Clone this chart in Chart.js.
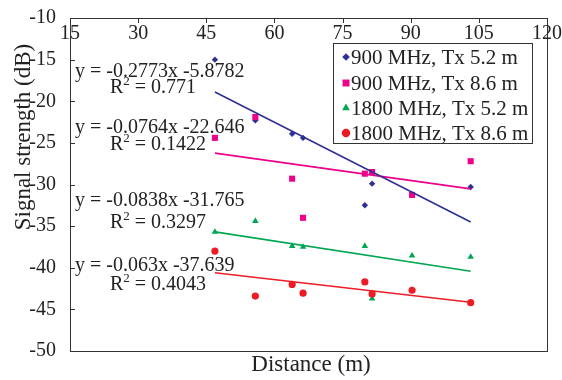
<!DOCTYPE html>
<html>
<head>
<meta charset="utf-8">
<script src="https://cdn.jsdelivr.net/npm/chart.js@4/dist/chart.umd.min.js"></script>
<style>
  html, body { margin: 0; padding: 0; background: #fff; }
  #wrap { width: 562px; height: 380px; }
</style>
</head>
<body>
<div id="wrap"><canvas id="chart" width="562" height="380"></canvas></div>
<script>
// values
const distances = [46.9, 55.8, 63.9, 66.3, 79.9, 81.5, 90.3, 103.2];
const mhz900Tx52 = [-15.0, -22.3, -23.9, -24.4, -32.5, -29.9, -31.2, -30.3];
const mhz900Tx86 = [-24.4, -21.9, -29.3, -34.0, -28.7, -28.5, -31.25, -27.2];
const mhz1800Tx52 = [-35.7, -34.4, -37.4, -37.5, -37.4, -43.7, -38.55, -38.7];
const mhz1800Tx86 = [-38.0, -43.4, -42.0, -43.05, -41.7, -43.15, -42.7, -44.2];
const seriesLabels = ['900 MHz, Tx 5.2 m', '900 MHz, Tx 8.6 m', '1800 MHz, Tx 5.2 m', '1800 MHz, Tx 8.6 m'];
const slopes = [-0.2773, -0.0764, -0.0838, -0.063];
const intercepts = [-5.8782, -22.646, -31.765, -37.639];
const rSquared = ['0.771', '0.1422', '0.3297', '0.4043'];
const xTicks = [15, 30, 45, 60, 75, 90, 105, 120];
const yTicks = [-10, -15, -20, -25, -30, -35, -40, -45, -50];

const colors = ['#2E3192', '#EC008C', '#00A651', '#ED1C24'];
const styles = ['rectRot', 'rect', 'triangle', 'circle'];
const radii = [3.2, 4.3, 3.8, 3.6];
const allSeries = [mhz900Tx52, mhz900Tx86, mhz1800Tx52, mhz1800Tx86];
const serif = '"Liberation Serif", "Times New Roman", serif';

const xMin = Math.min(...distances), xMax = Math.max(...distances);

const datasets = [];
allSeries.forEach((vals, i) => {
    datasets.push({
        label: seriesLabels[i],
        data: distances.map((d, j) => ({ x: d, y: vals[j] })),
        pointStyle: styles[i],
        pointRadius: radii[i],
        pointBackgroundColor: colors[i],
        pointBorderColor: colors[i],
        pointBorderWidth: 0,
        showLine: false,
        order: [4, 3, 6, 5][i]
    });
});
allSeries.forEach((vals, i) => {
    // linear trend lines from the fitted equations shown on the chart
    datasets.push({
        label: 'trend ' + i,
        data: [xMin, xMax].map(x => ({ x: x, y: slopes[i] * x + intercepts[i] })),
        showLine: true,
        borderColor: colors[i],
        borderWidth: 1.6,
        pointRadius: 0,
        order: 1
    });
});

const decor = {
    id: 'decor',
    afterDraw(chart) {
        const { ctx, chartArea: a, scales: { x, y } } = chart;
        ctx.save();
        ctx.strokeStyle = '#333';
        ctx.lineWidth = 1;
        ctx.strokeRect(Math.round(a.left) + 0.5, Math.round(a.top) + 0.5,
            Math.round(a.right - a.left), Math.round(a.bottom - a.top));

        // inside tick marks
        ctx.beginPath();
        yTicks.forEach(v => {
            const py = Math.round(y.getPixelForValue(v)) + 0.5;
            ctx.moveTo(a.left, py); ctx.lineTo(a.left + 5, py);
        });
        xTicks.forEach(v => {
            const px = Math.round(x.getPixelForValue(v)) + 0.5;
            ctx.moveTo(px, a.top); ctx.lineTo(px, a.top + 5);
        });
        ctx.stroke();

        ctx.fillStyle = '#222';
        ctx.font = '20px ' + serif;
        ctx.textAlign = 'center';
        ctx.textBaseline = 'alphabetic';
        xTicks.forEach(v => ctx.fillText(String(v), x.getPixelForValue(v), a.top + 21));

        // axis titles
        ctx.font = '23px ' + serif;
        ctx.fillText('Distance (m)', 311, 371);
        ctx.save();
        ctx.translate(30, 137);
        ctx.rotate(-Math.PI / 2);
        ctx.fillText('Signal strength (dB)', 0, 0);
        ctx.restore();

        // trend equations
        const eqBase = [77, 133, 206, 271];
        const rBase = [93, 150, 228, 290];
        ctx.textAlign = 'left';
        slopes.forEach((m, i) => {
            ctx.font = '20px ' + serif;
            ctx.fillText('y = ' + m + 'x ' + intercepts[i], 75, eqBase[i]);
            let px = 110;
            ctx.fillText('R', px, rBase[i]);
            px += ctx.measureText('R').width;
            ctx.font = '13px ' + serif;
            ctx.fillText('2', px, rBase[i] - 8);
            px += ctx.measureText('2').width;
            ctx.font = '20px ' + serif;
            ctx.fillText(' = ' + rSquared[i], px, rBase[i]);
        });

        // legend box
        ctx.strokeStyle = '#333';
        ctx.strokeRect(333.5, 43.5, 199, 100);
        const rows = [57, 83, 108, 133];
        seriesLabels.forEach((lab, i) => {
            ctx.fillStyle = colors[i];
            ctx.strokeStyle = colors[i];
            Chart.helpers.drawPoint(ctx, { pointStyle: styles[i], radius: radii[i] + 0.6, rotation: 0, borderWidth: 0 }, 346, rows[i]);
            ctx.fillStyle = '#222';
            ctx.font = '21px ' + serif;
            ctx.fillText(lab, 351, rows[i] + 7);
        });
        ctx.restore();
    }
};

new Chart(document.getElementById('chart'), {
    type: 'scatter',
    data: { datasets: datasets },
    options: {
        responsive: false,
        animation: false,
        devicePixelRatio: 1,
        layout: { padding: { top: 12, right: 15, bottom: 29, left: 0 } },
        plugins: { legend: { display: false }, tooltip: { enabled: false } },
        scales: {
            x: { type: 'linear', min: 15, max: 120, display: false },
            y: {
                min: -50,
                max: -10,
                afterBuildTicks: s => { s.ticks = yTicks.map(v => ({ value: v })); },
                afterFit: s => { s.width = 70; },
                grid: { display: false },
                border: { display: false },
                ticks: { color: '#222', padding: 6, font: { family: serif, size: 20 } }
            }
        }
    },
    plugins: [decor]
});
</script>
</body>
</html>
